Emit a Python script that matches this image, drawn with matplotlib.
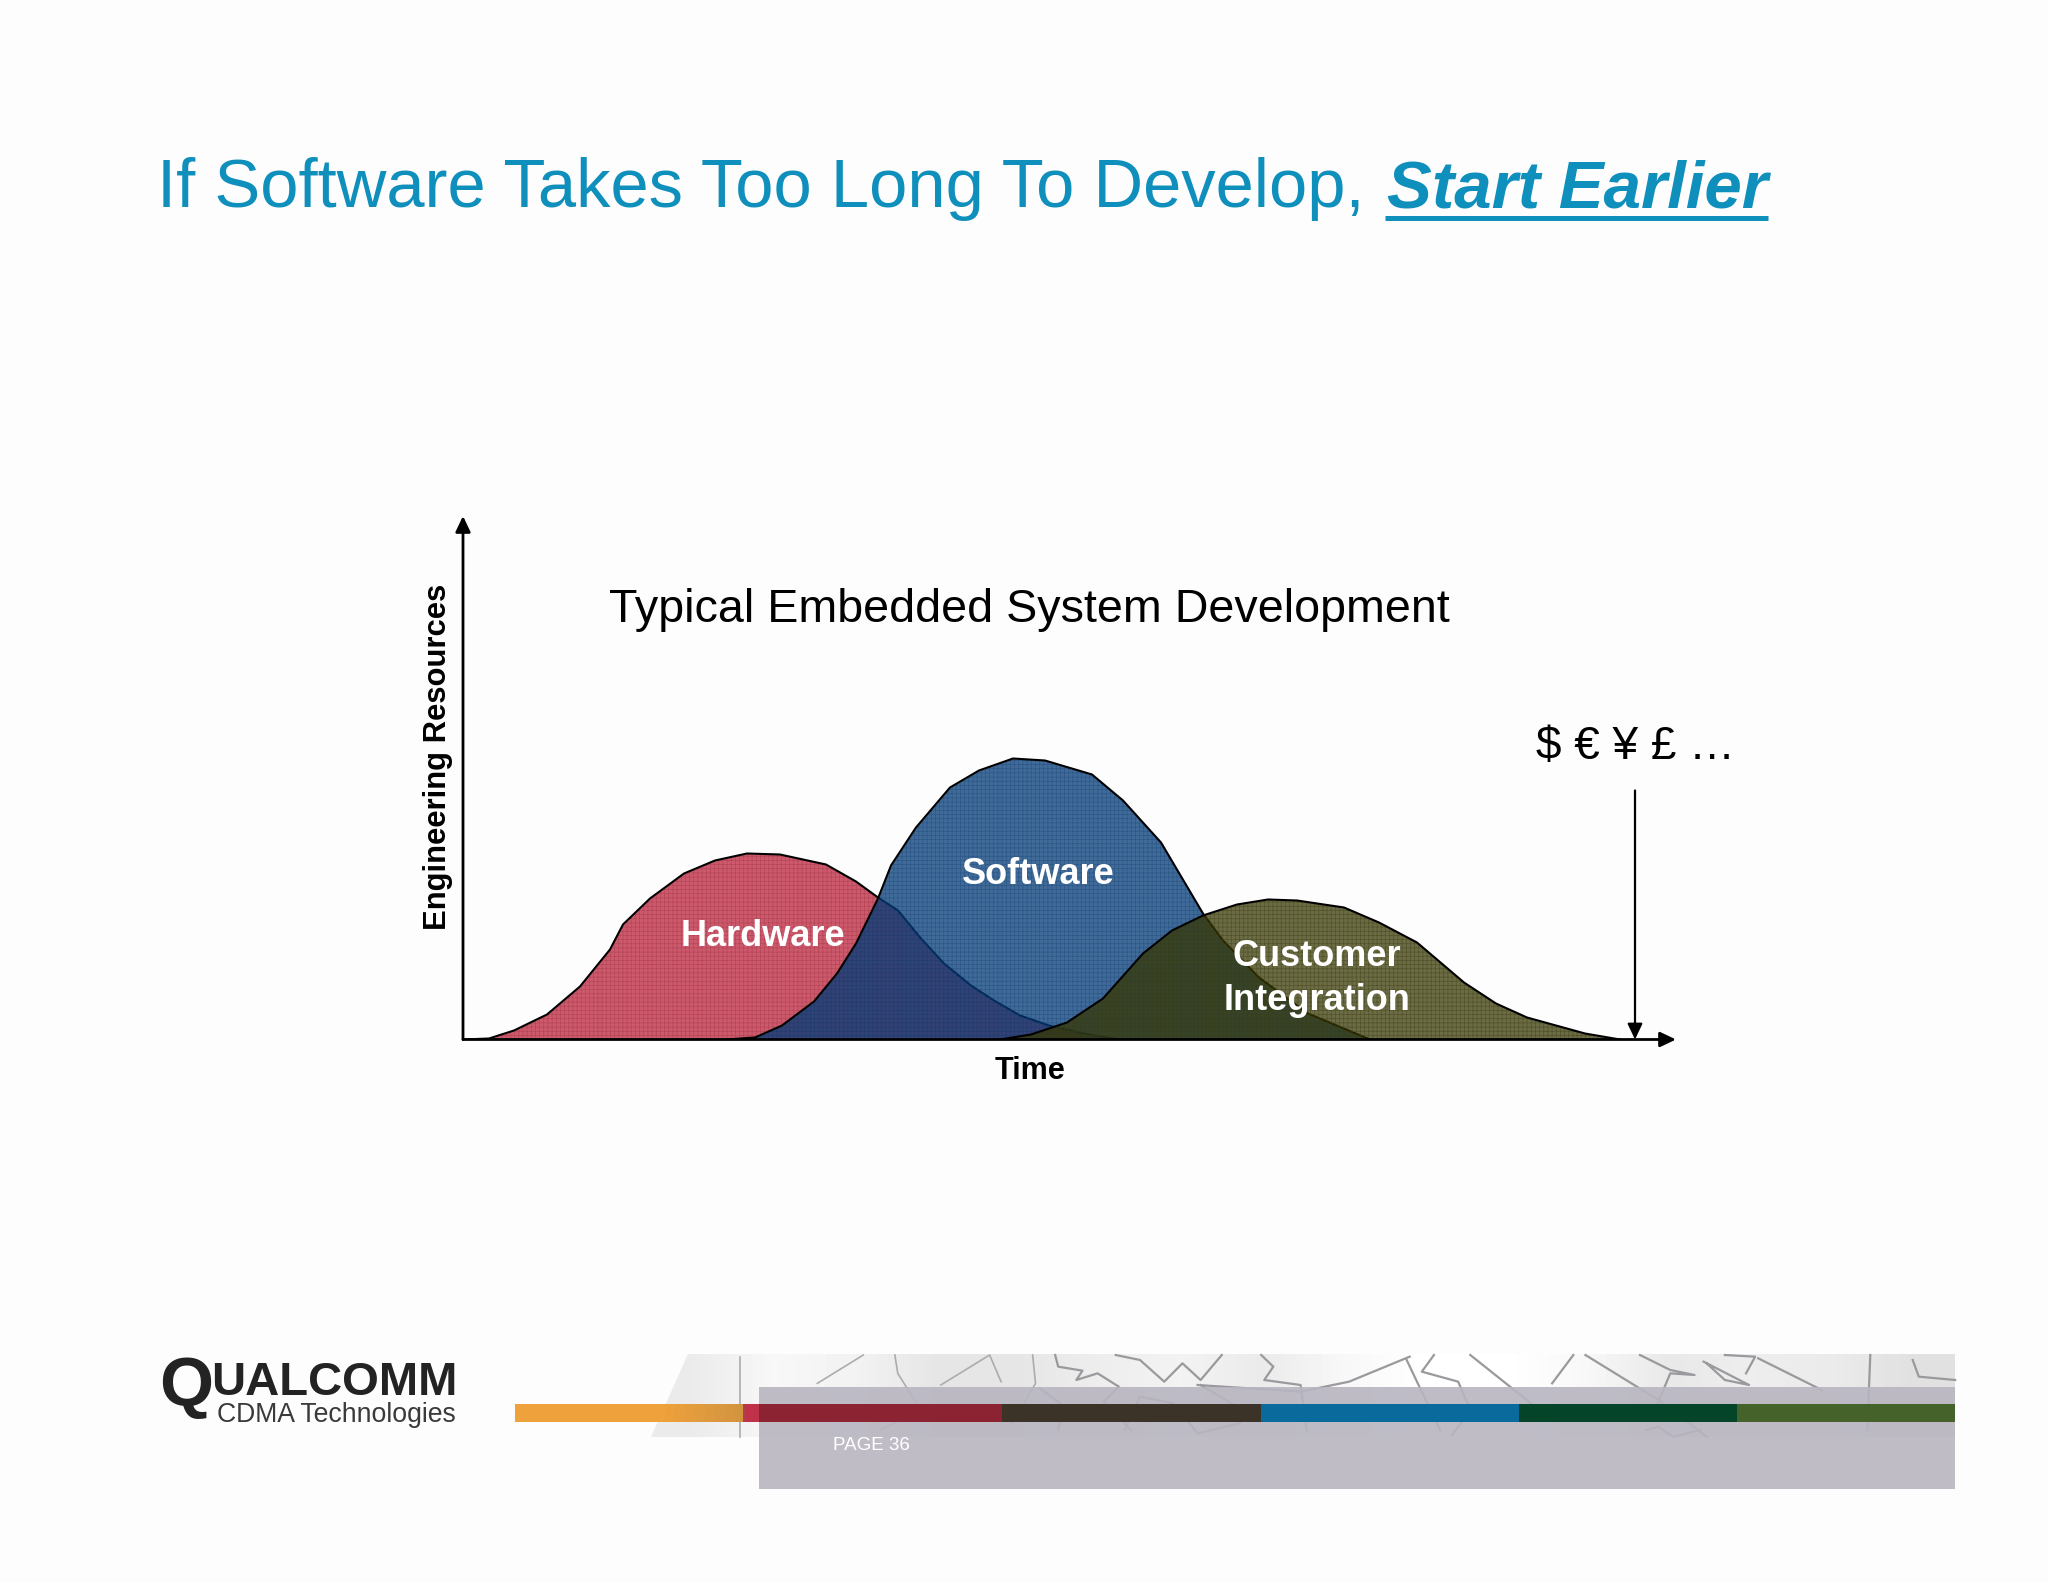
import numpy as np
import matplotlib
matplotlib.use('Agg')
import matplotlib.pyplot as plt
from matplotlib.patches import Polygon, Rectangle

plt.rcParams['font.family'] = ['Liberation Sans', 'DejaVu Sans']

# curves: time / resources
hw_time = [0, 26, 51, 84, 117, 147, 160, 187, 221, 252, 284, 317, 363, 393, 415, 435, 458, 481, 508, 531, 557, 586, 626, 657]
hw_res = [0, 1, 9, 25, 53, 90, 115, 141, 166, 179, 186, 185, 175, 158, 142, 129, 101, 76, 54, 39, 24, 14, 5, 0]
sw_time = [263, 292, 319, 351, 374, 393, 415, 428, 453, 487, 516, 550, 582, 629, 660, 698, 740, 760, 796, 845, 907]
sw_res = [0, 2, 14, 38, 66, 96, 141, 174, 212, 252, 269, 281, 279, 265, 239, 197, 126, 99, 62, 26, 0]
ci_time = [537, 568, 604, 640, 680, 709, 740, 774, 805, 834, 881, 916, 954, 1001, 1033, 1064, 1122, 1157]
ci_res = [0, 5, 17, 41, 86, 109, 124, 135, 140, 139, 132, 117, 97, 57, 36, 22, 6, 0]

title_plain = 'If Software Takes Too Long To Develop,'
title_em = 'Start Earlier'
chart_title = 'Typical Embedded System Development'
money = '$ € ¥ £ …'

band_edges = [515, 743, 1002, 1261, 1519, 1737, 1955]
band_colors = ['#EFA23C', '#8B2332', '#3B3228', '#0A6A9B', '#04452A', '#45622A']

# map scraps in the footer strip (x, y in zoom crop units)
map_lines = [
    [(25, 75), (30, 110), (70, 122), (60, 150), (95, 130), (130, 170), (105, 215), (150, 300)],
    [(125, 75), (165, 90), (205, 155), (235, 100), (265, 150), (300, 75)],
    [(365, 75), (385, 110), (370, 150), (430, 165), (440, 300)],
    [(610, 80), (510, 155), (430, 185), (260, 165)],
    [(650, 75), (630, 125), (690, 155), (710, 240), (680, 315)],
    [(710, 75), (810, 220)],
    [(880, 75), (845, 160)],
    [(900, 75), (1025, 215), (1100, 320)],
    [(990, 75), (1040, 120), (1080, 135), (1040, 130), (1010, 260)],
    [(1095, 95), (1170, 165), (1130, 150), (1100, 100)],
    [(1185, 85), (1290, 180)],
    [(1370, 75), (1365, 300)],
    [(1440, 90), (1450, 140), (1510, 150)],
    [(1130, 75), (1180, 80), (1165, 130)],
    [(605, 90), (660, 300)],
    [(140, 300), (165, 200), (220, 220), (260, 310), (330, 280), (325, 230), (265, 165)],
    [(0, 175), (40, 230), (30, 300)],
    [(1000, 300), (1020, 290), (1045, 320), (1090, 300)],
]
map_lines_left = [
    [(1315, 75), (1320, 130), (1360, 240), (1290, 300)],
    [(1180, 160), (1260, 75)],
    [(1395, 165), (1480, 75), (1500, 155)],
    [(1045, 80), (1045, 320)],
    [(1555, 75), (1560, 160), (1520, 280)],
]

fig = plt.figure(figsize=(20.48, 15.82), dpi=100, facecolor='#FEFDFE')

# full page axes in image pixels for slide furniture
bg = fig.add_axes([0, 0, 1, 1])
bg.set_xlim(0, 2048)
bg.set_ylim(1582, 0)
bg.axis('off')

# title
bg.text(157, 207, title_plain, fontsize=49.5, color='#0F8FBB', va='baseline')
bg.text(1387, 207, title_em, fontsize=48.4, color='#0F8FBB', va='baseline', fontweight='bold', fontstyle='italic')
bg.plot([1385, 1768], [218, 218], color='#0F8FBB', lw=3.6, solid_capstyle='butt')

# map strip
grey = np.array([[0.92, 0.97, 0.95, 0.90, 0.90, 0.93, 0.95, 0.92, 0.97, 1.0, 1.0, 0.97, 0.91, 0.93, 0.92, 0.88]])
strip = bg.imshow(grey, cmap='gray', vmin=0, vmax=1, extent=[651, 1955, 1437, 1354], aspect='auto',
                  interpolation='bilinear', zorder=1)
clip = Polygon([(688, 1354), (1955, 1354), (1955, 1437), (651, 1437)], transform=bg.transData, fc='none', ec='none')
bg.add_patch(clip)
strip.set_clip_path(clip)
bg.set_xlim(0, 2048)
bg.set_ylim(1582, 0)
for line in map_lines:
    xs = [1040 + p[0] / 1.65 for p in line]
    ys = [1330 + p[1] / 3 for p in line]
    bg.plot(xs, ys, color='#9A9A9E', lw=1.6, zorder=2)
for line in map_lines_left:
    xs = [140 + p[0] / 1.742 for p in line]
    ys = [1330 + p[1] / 3 for p in line]
    bg.plot(xs, ys, color='#ACACB0', lw=1.2, zorder=2)

# grey panel + colour band
bg.add_patch(Rectangle((759, 1387), 1196, 102, fc='#B8B5C0', ec='none', alpha=0.9, zorder=3))
for i in range(len(band_colors)):
    bg.add_patch(Rectangle((band_edges[i], 1404), band_edges[i + 1] - band_edges[i], 18,
                           fc=band_colors[i], ec='none', zorder=4))
bg.add_patch(Rectangle((743, 1404), 16, 18, fc='#C0324A', ec='none', zorder=5))
# orange darkens where the strip starts
for i in range(9):
    bg.add_patch(Rectangle((655 + i * 10, 1404), 10, 18, fc='#7A6A50', ec='none', alpha=0.03 * i, zorder=5))
bg.text(833, 1445, 'PAGE 36', fontsize=13.5, color='white', ha='left', va='center', zorder=6)

# logo
bg.text(159, 1405, 'Q', fontsize=50, color='#232323', fontweight='bold', va='baseline')
bg.text(211, 1395, 'UALCOMM', fontsize=34, color='#232323', va='baseline', fontweight='bold')
bg.text(217, 1422, 'CDMA Technologies', fontsize=19.2, color='#3A3A3A', va='baseline')

# chart axes, one data unit = one image pixel
ox, oy = 463, 1039.5
w, h = 1213, 523.5
ax = fig.add_axes([ox / 2048, 1 - oy / 1582, w / 2048, h / 1582])
ax.set_xlim(0, w)
ax.set_ylim(0, h)
ax.patch.set_alpha(0)
ax.axis('off')

plt.rcParams['hatch.linewidth'] = 0.5

ax.fill_between(hw_time, hw_res, color='#CC5A6C', lw=0, zorder=2)
ax.fill_between(hw_time, hw_res, facecolor='none', edgecolor='#A8384C', hatch='++++', lw=0, alpha=0.6, zorder=2.1)
ax.plot(hw_time, hw_res, color='black', lw=1.5, zorder=2.2)

ax.fill_between(sw_time, sw_res, color='#003A78', alpha=0.75, lw=0, zorder=3)
ax.fill_between(sw_time, sw_res, facecolor='none', edgecolor='#123E72', hatch='++++', lw=0, alpha=0.45, zorder=3.1)
ax.plot(sw_time, sw_res, color='black', lw=1.5, zorder=3.2)

ax.fill_between(ci_time, ci_res, color='#343500', alpha=0.73, lw=0, zorder=4)
ax.fill_between(ci_time, ci_res, facecolor='none', edgecolor='#3F3F12', hatch='++++', lw=0, alpha=0.55, zorder=4.1)
ax.plot(ci_time, ci_res, color='black', lw=1.5, zorder=4.2)

# axis arrows
head = '-|>,head_length=0.95,head_width=0.45'
ax.annotate('', xy=(w, 0), xytext=(0, 0), annotation_clip=False, zorder=6,
            arrowprops=dict(arrowstyle=head, color='black', lw=2, shrinkA=0, shrinkB=0))
ax.annotate('', xy=(0, h), xytext=(0, 0), annotation_clip=False, zorder=6,
            arrowprops=dict(arrowstyle=head, color='black', lw=2, shrinkA=0, shrinkB=0))
ax.annotate('', xy=(1172, 0), xytext=(1172, 249), annotation_clip=False, zorder=6,
            arrowprops=dict(arrowstyle=head, color='black', lw=1.6, shrinkA=0, shrinkB=0))

# chart text, placed in page pixels
top = fig.add_axes([0, 0, 1, 1])
top.set_xlim(0, 2048)
top.set_ylim(1582, 0)
top.axis('off')
top.patch.set_alpha(0)
top.text(1029, 610, chart_title, fontsize=33.6, color='black', ha='center', va='center')
top.text(1635, 747, money, fontsize=33, color='black', ha='center', va='center')
top.text(438, 757, 'Engineering Resources', fontsize=22.3, fontweight='bold', rotation=90, ha='center', va='center')
top.text(1030, 1071, 'Time', fontsize=22, fontweight='bold', ha='center', va='center')
top.text(763, 937, 'Hardware', fontsize=26, fontweight='bold', color='white', ha='center', va='center')
top.text(1038, 875, 'Software', fontsize=26, fontweight='bold', color='white', ha='center', va='center')
top.text(1317, 957, 'Customer', fontsize=26, fontweight='bold', color='white', ha='center', va='center')
top.text(1317, 1000, 'Integration', fontsize=26, fontweight='bold', color='white', ha='center', va='center')

fig.savefig('out.png', dpi=100, facecolor=fig.get_facecolor())
